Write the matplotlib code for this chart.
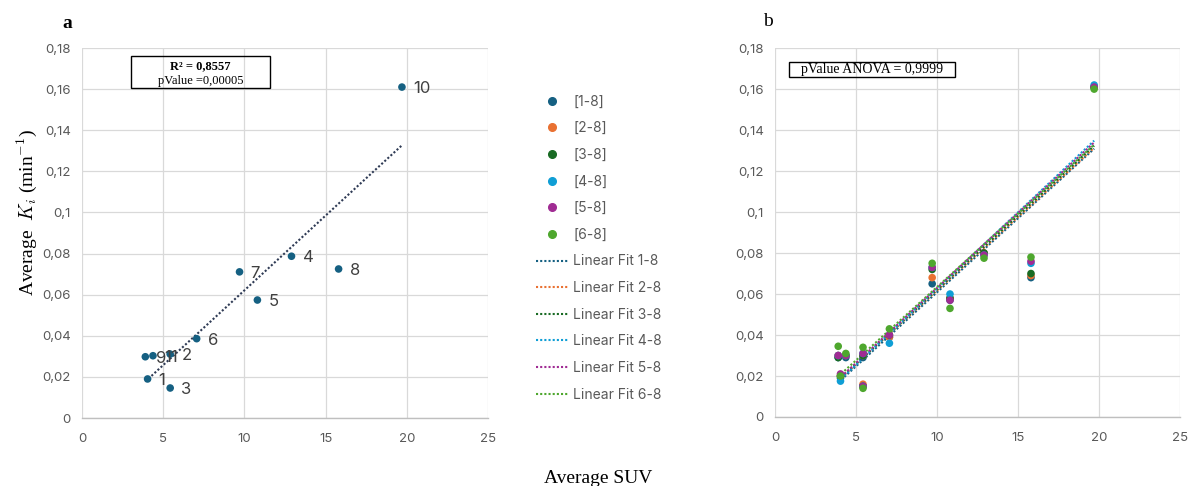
import numpy as np
import matplotlib
matplotlib.use("Agg")
import matplotlib.pyplot as plt
from matplotlib.ticker import FuncFormatter
from matplotlib.lines import Line2D

plt.rcParams["font.family"] = ["Inter", "DejaVu Sans"]
plt.rcParams["mathtext.fontset"] = "cm"

# panel a: average values per patient
point_labels = ["1", "2", "3", "4", "5", "6", "7", "8", "9", "10", "11"]
suv = [4.04, 5.43, 5.43, 12.9, 10.8, 7.06, 9.7, 15.8, 3.9, 19.7, 4.37]
ki_avg = [0.019, 0.0311, 0.0146, 0.0787, 0.0574, 0.0386, 0.0711, 0.0725, 0.0298, 0.161, 0.0303]

# panel b: Ki for each frame range
ranges = ["[1-8]", "[2-8]", "[3-8]", "[4-8]", "[5-8]", "[6-8]"]
fit_names = ["Linear Fit 1-8", "Linear Fit 2-8", "Linear Fit 3-8",
             "Linear Fit 4-8", "Linear Fit 5-8", "Linear Fit 6-8"]
ki_1_8 = [0.019, 0.029, 0.015, 0.080, 0.057, 0.039, 0.065, 0.068, 0.029, 0.161, 0.029]
ki_2_8 = [0.020, 0.030, 0.016, 0.080, 0.058, 0.039, 0.068, 0.069, 0.030, 0.161, 0.030]
ki_3_8 = [0.020, 0.030, 0.015, 0.080, 0.058, 0.040, 0.072, 0.070, 0.029, 0.161, 0.030]
ki_4_8 = [0.0175, 0.031, 0.015, 0.079, 0.060, 0.036, 0.073, 0.075, 0.030, 0.162, 0.030]
ki_5_8 = [0.021, 0.031, 0.015, 0.079, 0.057, 0.040, 0.073, 0.076, 0.030, 0.161, 0.030]
ki_6_8 = [0.020, 0.034, 0.014, 0.0775, 0.053, 0.043, 0.075, 0.078, 0.0345, 0.160, 0.031]
series = [ki_1_8, ki_2_8, ki_3_8, ki_4_8, ki_5_8, ki_6_8]
colors = ["#156082", "#E97132", "#196B24", "#0F9ED5", "#A02B93", "#4EA72E"]

tick_col = "#595959"
grid_col = "#d9d9d9"


def comma(v, pos):
    if abs(v) < 1e-12:
        return "0"
    s = ("%.2f" % v).rstrip("0").rstrip(".")
    return s.replace(".", ",")


def style_axes(ax):
    ax.set_xlim(0, 25)
    ax.set_ylim(0, 0.18)
    ax.set_xticks(np.arange(0, 26, 5))
    ax.set_yticks(np.arange(0, 0.181, 0.02))
    ax.yaxis.set_major_formatter(FuncFormatter(comma))
    ax.grid(True, color=grid_col, lw=0.9)
    ax.set_axisbelow(True)
    for s in ["top", "right", "left"]:
        ax.spines[s].set_visible(False)
    ax.spines["bottom"].set_color("#bfbfbf")
    ax.spines["bottom"].set_linewidth(1.0)
    ax.tick_params(length=0, colors=tick_col, labelsize=9.5, pad=8)
    ax.tick_params(axis="x", pad=11)


fig = plt.figure(figsize=(11.9, 4.86), dpi=100)
ax1 = fig.add_axes([0.0689, 0.1399, 0.3412, 0.7613])
ax2 = fig.add_axes([0.6513, 0.142, 0.3403, 0.759])
style_axes(ax1)
style_axes(ax2)

# panel a
x = np.array(suv)
y = np.array(ki_avg)
k, b = np.polyfit(x, y, 1)
xf = np.array([x.min(), x.max()])
ax1.plot(xf, k * xf + b, ls=(0, (1, 1)), color="#2f3b55", lw=1.5, zorder=2)
ax1.scatter(x, y, s=30, color=colors[0], zorder=3, edgecolors="none")
for lab, xi, yi in zip(point_labels, suv, ki_avg):
    ax1.annotate(lab, (xi, yi), xytext=(8, -1), textcoords="offset points",
                 ha="left", va="center", fontsize=12, color="#404040")

ax1.text(0.292, 0.952, "R² = 0,8557", transform=ax1.transAxes, ha="center",
         va="center", fontsize=9, family="Liberation Serif", fontweight="bold")
ax1.text(0.292, 0.911, "pValue =0,00005", transform=ax1.transAxes, ha="center",
         va="center", fontsize=9, family="Liberation Serif")
ax1.add_patch(plt.Rectangle((0.121, 0.892), 0.342, 0.086, transform=ax1.transAxes,
                            fill=False, ec="black", lw=1.0))

# panel b
for vals, c, name in zip(series, colors, ranges):
    ax2.scatter(suv, vals, s=30, color=c, zorder=3, edgecolors="none", label=name)
for vals, c in zip(series, colors):
    kk, bb = np.polyfit(x, np.array(vals), 1)
    ax2.plot(xf, kk * xf + bb, ls=(0, (1, 1)), color=c, lw=1.5, zorder=2)

ax2.text(0.24, 0.941, "pValue ANOVA = 0,9999", transform=ax2.transAxes,
         ha="center", va="center", fontsize=10, family="Liberation Serif")
ax2.add_patch(plt.Rectangle((0.035, 0.921), 0.41, 0.041, transform=ax2.transAxes,
                            fill=False, ec="black", lw=1.0))

# legend
handles = [Line2D([], [], ls="none", marker="o", ms=5.5, color=c) for c in colors]
handles += [Line2D([], [], ls=(0, (1, 1)), lw=1.5, color=c) for c in colors]
leg = fig.legend(handles, ranges + fit_names, loc="upper left",
                 bbox_to_anchor=(530 / 1190, 1 - 89 / 486), frameon=False,
                 fontsize=10, labelspacing=0.91, handlelength=2.4,
                 handletextpad=0.3, borderaxespad=0)
for t in leg.get_texts():
    t.set_color(tick_col)

fig.text(67 / 1190, 1 - 23 / 486, "a", fontsize=14, family="Liberation Serif",
         fontweight="bold", ha="center", va="center")
fig.text(768 / 1190, 1 - 22 / 486, "b", fontsize=14, family="Liberation Serif",
         ha="center", va="center")
fig.text(598 / 1190, 1 - 478 / 486, "Average SUV", fontsize=14,
         family="Liberation Serif", ha="center", va="center")
fig.text(27 / 1190, 1 - 212 / 486, r"Average  $K_i$ (min$^{-1}$)", fontsize=14,
         family="Liberation Serif", rotation=90, ha="center", va="center")

fig.savefig("out.png", dpi=100)
